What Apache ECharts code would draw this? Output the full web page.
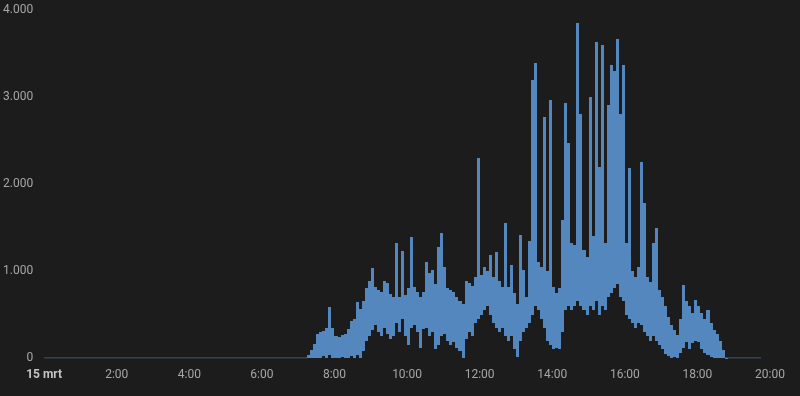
<!DOCTYPE html>
<html>
<head>
<meta charset="utf-8">
<script src="https://cdn.jsdelivr.net/npm/echarts@6/dist/echarts.min.js"></script>
<style>
html,body{margin:0;padding:0;background:#1c1c1c;}
#c{width:800px;height:396px;}
</style>
</head>
<body>
<div id="c"></div>
<script>
// x tick labels (hours 0..20, every 2h)
const tickLabels = ['15 mrt','2:00','4:00','6:00','8:00','10:00','12:00','14:00','16:00','18:00','20:00'];
// y tick labels
const yTickLabels = ['0','1.000','2.000','3.000','4.000'];

// active period: 5-minute buckets starting 7:15, each with low and high reading (W)
const startMinute = 435;
const stepMinutes = 5;
const hiVals = [
  30, 90, 160, 280, 300, 310, 340, 590, 350, 250,
  240, 260, 280, 330, 420, 450, 640, 560, 660, 800,
  880, 1040, 820, 780, 760, 880, 860, 740, 700, 1320,
  700, 1230, 720, 800, 1390, 820, 760, 700, 760, 1100,
  980, 1010, 850, 1280, 1440, 1050, 800, 780, 760, 700,
  650, 620, 880, 860, 830, 930, 2300, 950, 1050, 1000,
  1180, 930, 1220, 880, 820, 1550, 820, 1070, 750, 620,
  1410, 1010, 700, 1350, 3190, 3390, 1100, 1050, 2770, 1000,
  2960, 820, 750, 800, 1590, 2930, 2470, 1320, 1300, 3850,
  2800, 1240, 1160, 3000, 1400, 3630, 2200, 3600, 1320, 2910,
  3370, 3300, 3670, 2800, 3370, 1320, 2180, 1000, 930, 1050,
  2250, 1780, 930, 870, 1320, 1490, 780, 700, 600, 470,
  380, 320, 260, 450, 840, 650, 600, 520, 670, 600,
  520, 450, 550, 400, 320, 280, 200, 90, 0
];
const loVals = [
  0, 0, 0, 0, 0, 20, 0, 30, 0, 0,
  0, 10, 0, 0, 20, 0, 30, 0, 80, 200,
  250, 320, 380, 300, 250, 350, 280, 220, 250, 400,
  300, 450, 250, 150, 350, 380, 300, 120, 330, 350,
  250, 300, 100, 150, 250, 280, 200, 150, 180, 120,
  80, 0, 220, 300, 250, 400, 450, 500, 550, 600,
  500, 400, 350, 300, 350, 250, 200, 250, 100, 10,
  200, 300, 350, 400, 500, 600, 550, 450, 350, 200,
  150, 100, 120, 100, 300, 550, 600, 550, 600, 650,
  600, 550, 500, 600, 550, 650, 500, 600, 550, 700,
  750, 800, 850, 700, 650, 500, 450, 400, 350, 400,
  380, 300, 250, 200, 250, 200, 150, 100, 50, 20,
  0, 10, 0, 60, 120, 180, 100, 170, 200, 180,
  100, 60, 30, 10, 0, 0, 0, 0, 0
];
// idle readings (hour, W) before and after the active period
const idleBefore = [[0, 0], [7.25, 0]];
const idleAfter = [[18.75, 0], [19.75, 0]];

const COLOR = '#5387be';
const stepHours = stepMinutes / 60;

// band data: [bucket start hour, low, high]
const bandData = hiVals.map((h, i) => [(startMinute + i * stepMinutes) / 60, loVals[i], h]);
const idleData = idleBefore.concat([[null, null]], idleAfter);

const chart = echarts.init(document.getElementById('c'), null, {renderer: 'canvas'});
chart.setOption({
  backgroundColor: '#1c1c1c',
  animation: false,
  grid: {left: 42, right: 30, top: 10, bottom: 38},
  xAxis: {
    type: 'value', min: 0, max: 20, interval: 2,
    axisLine: {show: false}, axisTick: {show: false}, splitLine: {show: false},
    axisLabel: {
      margin: 11, fontFamily: 'Roboto', fontSize: 12, color: '#a6a6a6',
      formatter: v => {
        const idx = Math.round(v / 2);
        return idx === 0 ? '{b|' + tickLabels[0] + '}' : tickLabels[idx];
      },
      rich: {b: {fontWeight: 'bold', color: '#c4c4c4', fontFamily: 'Roboto', fontSize: 12}}
    }
  },
  yAxis: {
    type: 'value', min: 0, max: 4000, interval: 1000,
    axisLine: {show: false}, axisTick: {show: false}, splitLine: {show: false},
    axisLabel: {
      margin: 11, fontFamily: 'Roboto', fontSize: 12, color: '#a6a6a6',
      formatter: v => yTickLabels[Math.round(v / 1000)]
    }
  },
  series: [
    {
      type: 'line', data: idleData, showSymbol: false, symbol: 'none', connectNulls: false,
      lineStyle: {color: '#4a6d92', width: 1.2}
    },
    {
      type: 'custom', data: bandData,
      encode: {x: 0, y: [1, 2]},
      renderItem: function (params, api) {
        const t = api.value(0);
        const pLo = api.coord([t, api.value(1)]);
        const pHi = api.coord([t, api.value(2)]);
        const pEnd = api.coord([t + stepHours, api.value(1)]);
        const x0 = Math.round(pLo[0]);
        const x1 = Math.round(pEnd[0]);
        const yTop = Math.round(pHi[1]);
        const yBot = Math.max(Math.round(pLo[1]), yTop + 1);
        return {
          type: 'rect',
          shape: {x: x0, y: yTop, width: x1 - x0, height: yBot - yTop},
          style: {fill: COLOR}
        };
      }
    }
  ]
});
</script>
</body>
</html>
